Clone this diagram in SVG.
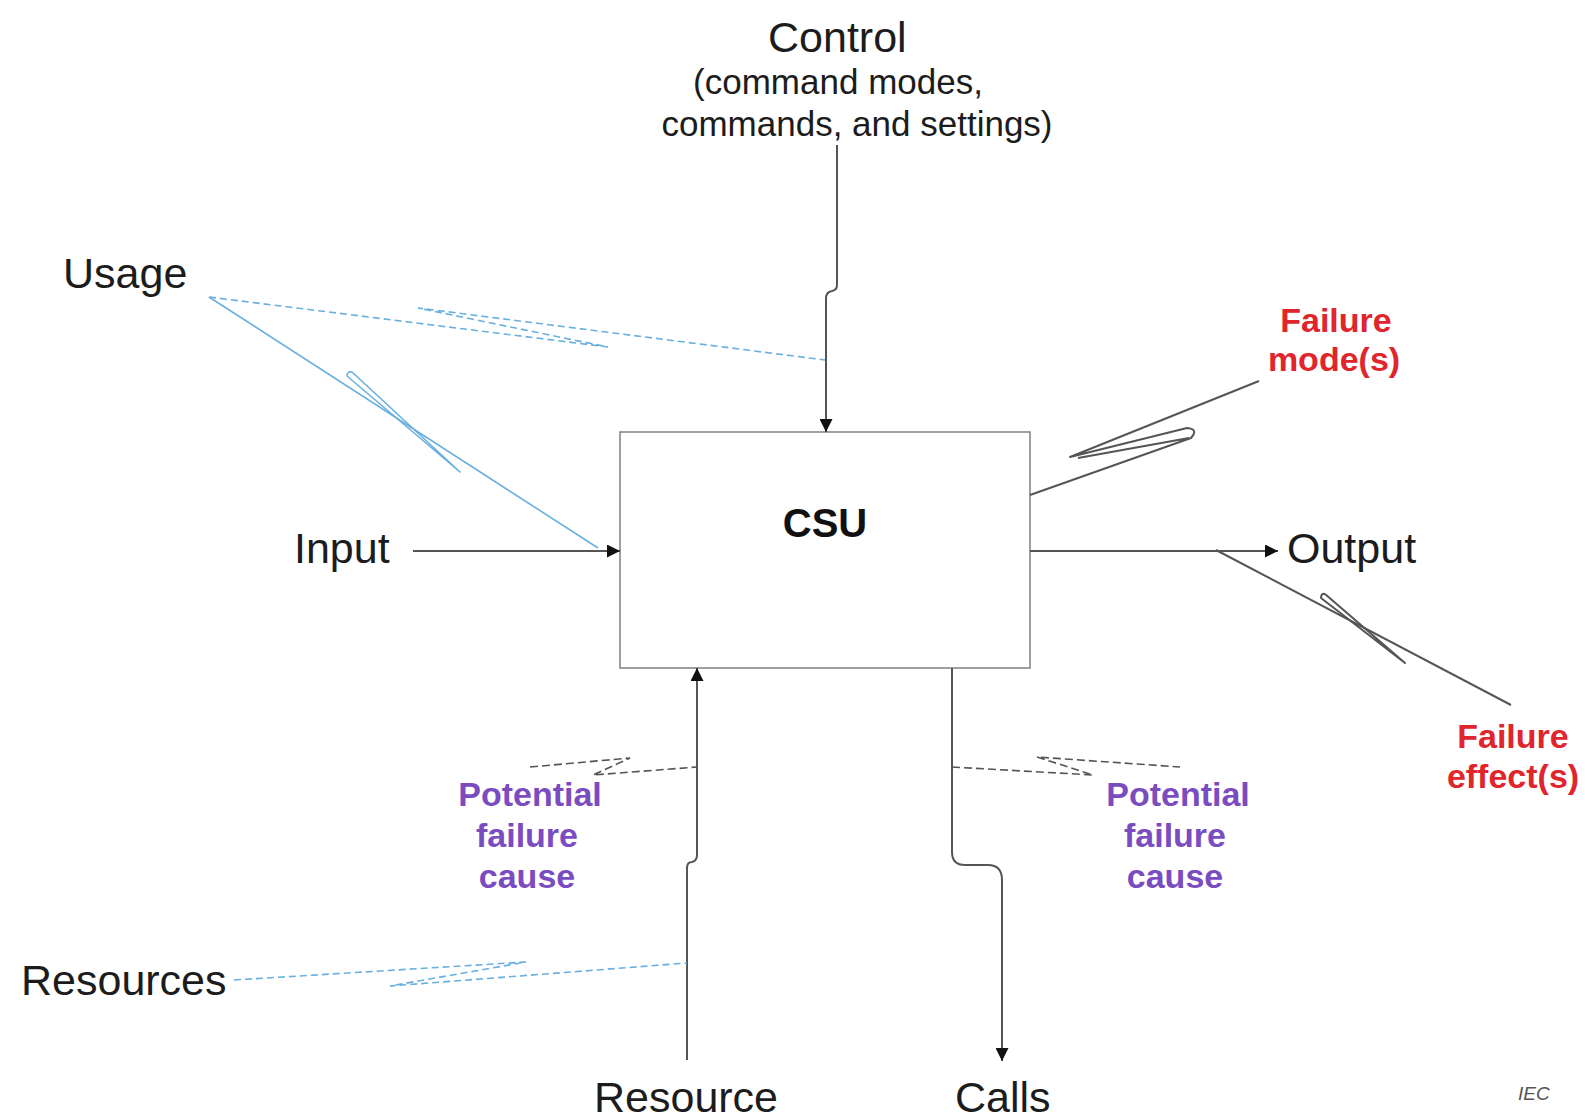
<svg xmlns="http://www.w3.org/2000/svg" width="1585" height="1118" viewBox="0 0 1585 1118">
  <defs>
    <style>
      text { font-family: "Liberation Sans", Arial, sans-serif; }
      .lbl { font-size: 43px; fill: #1c1c1c; }
      .sub { font-size: 35px; fill: #1c1c1c; text-anchor: middle; }
      .csu { font-size: 40px; font-weight: bold; fill: #111; text-anchor: middle; }
      .red { font-size: 34px; font-weight: bold; fill: #e0252c; text-anchor: middle; }
      .pur { font-size: 34px; font-weight: bold; fill: #7a4cc0; text-anchor: middle; }
      .iec { font-size: 19px; font-style: italic; fill: #555; }
      .flow { fill: none; stroke: #555; stroke-width: 2; }
      .bolt { fill: none; stroke: #555; stroke-width: 2; stroke-linejoin: round; }
      .boltdash { fill: none; stroke: #555; stroke-width: 1.6; stroke-dasharray: 8 4; }
      .blue { fill: none; stroke: #6ab0de; stroke-width: 1.6; stroke-linejoin: round; }
      .bluedash { fill: none; stroke: #6ab0de; stroke-width: 1.6; stroke-dasharray: 7 4; }
    </style>
    <marker id="arrow" viewBox="0 0 13 13" refX="13" refY="6.5" markerWidth="13" markerHeight="13" markerUnits="userSpaceOnUse" orient="auto">
      <path d="M0,0 L13,6.5 L0,13 Z" fill="#111"/>
    </marker>
  </defs>

  <rect width="1585" height="1118" fill="#ffffff"/>

  <!-- central unit -->
  <g id="csu">
    <rect x="620" y="432" width="410" height="236" fill="#fff" stroke="#888" stroke-width="1.6"/>
    <text class="csu" x="825" y="537">CSU</text>
  </g>

  <g id="control">
    <text class="lbl" x="768" y="52">Control</text>
    <text class="sub" x="838" y="94">(command modes,</text>
    <text class="sub" x="857" y="136">commands, and settings)</text>
  </g>

  <g id="usage"><text class="lbl" x="63" y="288">Usage</text></g>
  <g id="input"><text class="lbl" x="294" y="563">Input</text></g>
  <g id="output"><text class="lbl" x="1287" y="563">Output</text></g>
  <g id="resources"><text class="lbl" x="21" y="995">Resources</text></g>
  <g id="resource"><text class="lbl" x="594" y="1112">Resource</text></g>
  <g id="calls"><text class="lbl" x="955" y="1112">Calls</text></g>

  <g id="failure-mode">
    <text class="red" x="1336" y="332">Failure</text>
    <text class="red" x="1334" y="371">mode(s)</text>
  </g>
  <g id="failure-effect">
    <text class="red" x="1513" y="748">Failure</text>
    <text class="red" x="1513" y="788">effect(s)</text>
  </g>
  <g id="cause-resource">
    <text class="pur" x="530" y="806">Potential</text>
    <text class="pur" x="527" y="847">failure</text>
    <text class="pur" x="527" y="888">cause</text>
  </g>
  <g id="cause-calls">
    <text class="pur" x="1178" y="806">Potential</text>
    <text class="pur" x="1175" y="847">failure</text>
    <text class="pur" x="1175" y="888">cause</text>
  </g>

  <text class="iec" x="1518" y="1100">IEC</text>

  <g id="connectors">
    <!-- main flows -->
    <line class="flow" x1="413" y1="551" x2="620" y2="551" marker-end="url(#arrow)"/>
    <line class="flow" x1="1030" y1="551" x2="1278" y2="551" marker-end="url(#arrow)"/>
    <path class="flow" d="M837,145 V285 Q837,290 832,291 Q826,292 826,298 V432" marker-end="url(#arrow)"/>
    <path class="flow" d="M687,1060 V868 Q687,862 692,862 Q697,861 697,855 V668" marker-end="url(#arrow)"/>
    <path class="flow" d="M952,668 V852 Q952,865 965,865 H988 Q1002,865 1002,880 V1061" marker-end="url(#arrow)"/>

    <!-- failure mode bolt -->
    <path class="bolt" d="M1259,381 L1070,457 L1187,428 Q1199,429 1191,438 L1030,495 M1078,458 L1189,438"/>

    <!-- failure effect bolt -->
    <line class="bolt" x1="1216" y1="550" x2="1511" y2="705"/>
    <path class="bolt" d="M1325,594 L1405,663 L1321,598 Q1321,593 1325,594"/>

    <!-- usage influences -->
    <line class="blue" x1="209" y1="297" x2="598" y2="548"/>
    <path class="blue" d="M352,372 L460,472 L347,376 Q347,371 352,372"/>
    <path class="bluedash" d="M209,297 L608,347 L418,308 L825,360"/>

    <!-- resources influence -->
    <path class="bluedash" d="M234,980 L526,962 L390,986 L687,963"/>

    <!-- potential failure causes -->
    <path class="boltdash" d="M530,767 L630,758 L593,775 L697,767"/>
    <path class="boltdash" d="M952,767 L1093,775 L1037,757 L1180,767"/>
  </g>
</svg>
